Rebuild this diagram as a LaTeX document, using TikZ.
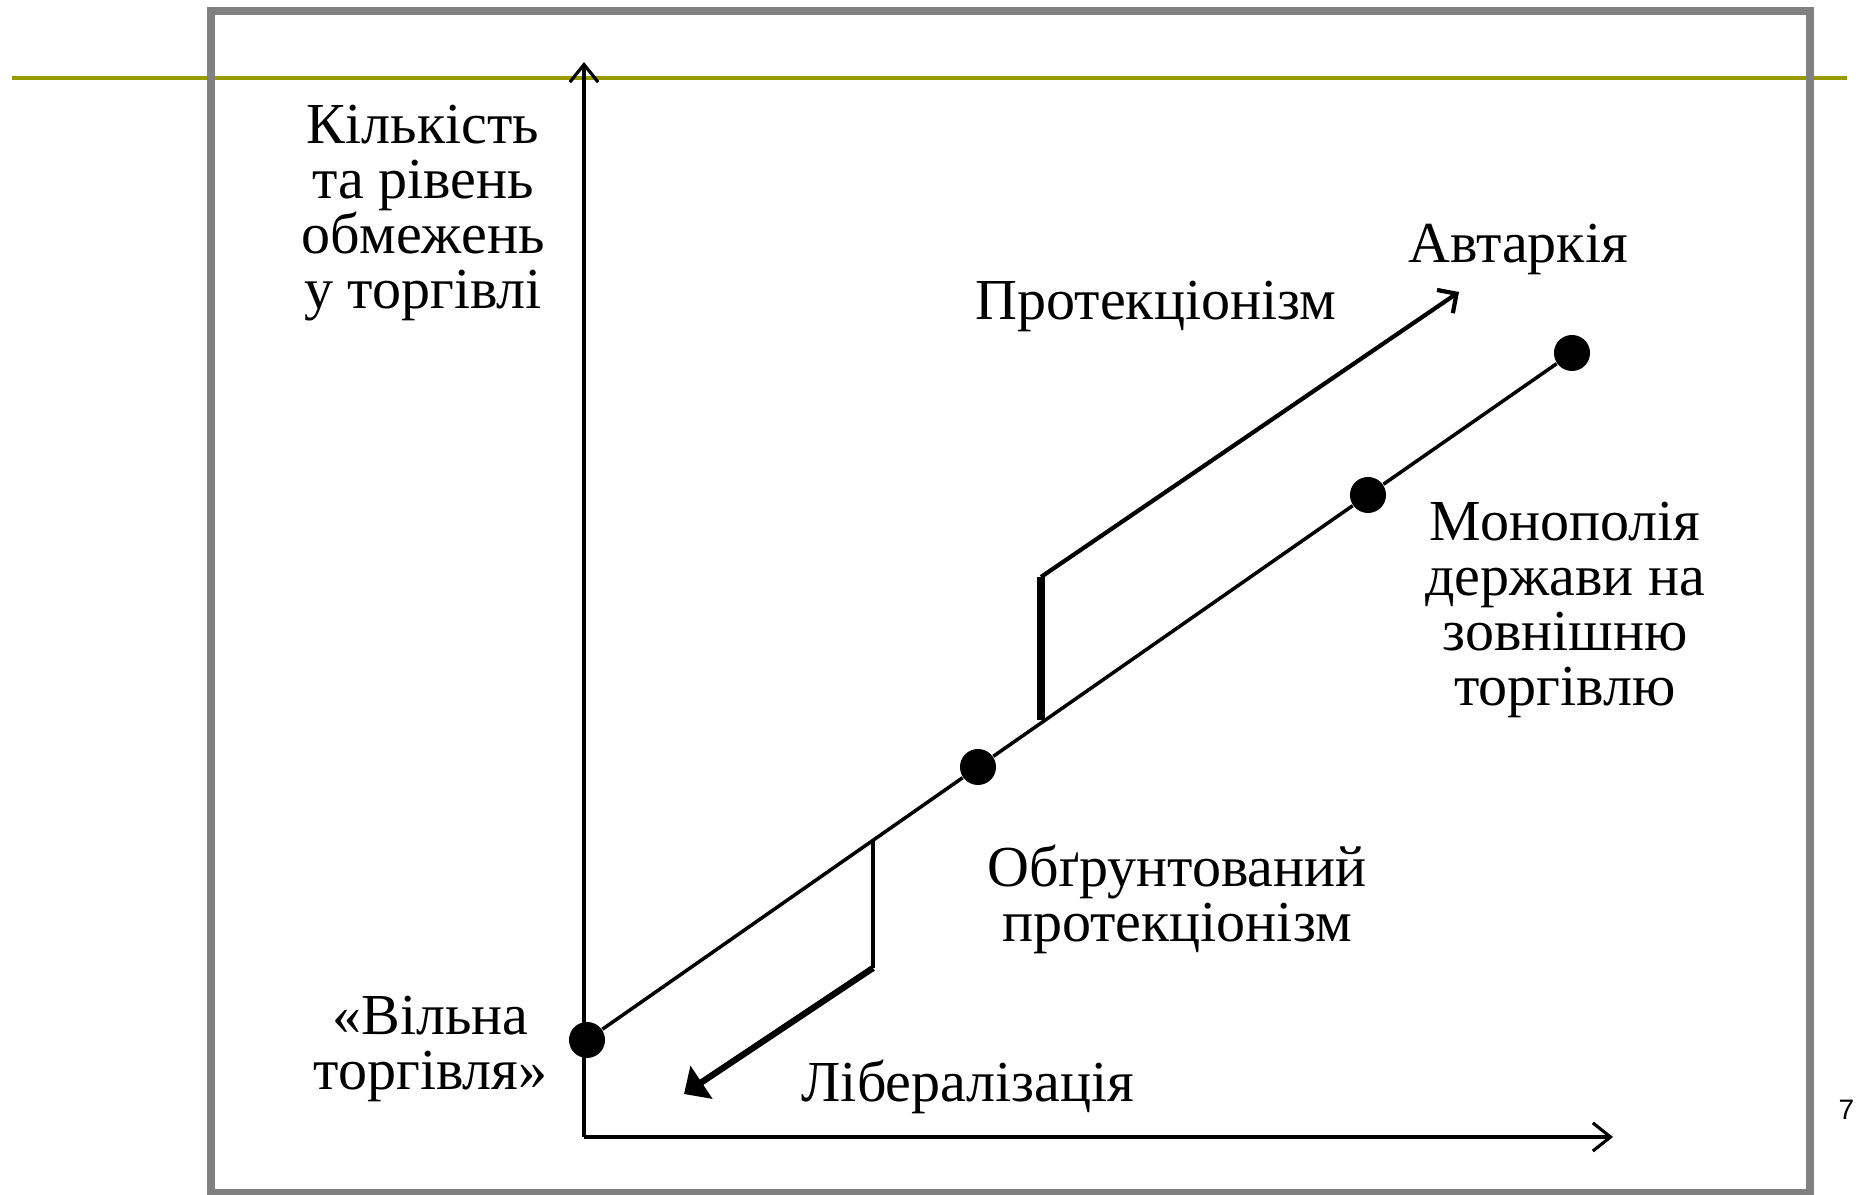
\documentclass[tikz,border=0pt]{standalone}
\usepackage{fontspec}
\setmainfont{Liberation Serif}
\setsansfont{Liberation Sans}
\usetikzlibrary{positioning, arrows.meta}

\definecolor{slideolive}{RGB}{153,153,0}
\definecolor{framegray}{RGB}{128,128,128}

\begin{document}
\begin{tikzpicture}[
        x=0.01cm,
        y=-0.01cm,
        axis/.style={
            line width=0.9pt,
            -{Straight Barb[length=5pt, width=8pt]}
        },
        trend/.style={
            line width=1pt
        },
        dot/.style={
            circle,
            fill=black,
            inner sep=0pt,
            minimum size=0.36cm
        },
        caption/.style={
            align=center,
            inner sep=0pt,
            font=\fontsize{16.5}{15.6}\selectfont
        },
        uparrow/.style={
            line width=1.2pt,
            -{Straight Barb[length=4pt, width=8pt]}
        },
        downarrow/.style={
            line width=1.8pt,
            -{Triangle[length=6pt, width=11pt]}
        }
    ]

    \useasboundingbox (0,0) rectangle (1856,1195);

    % --------------------------------------------------------
    % Slide decoration
    % --------------------------------------------------------

    \draw[slideolive, line width=1.2pt]
        (12,78) -- (1847,78);

    \draw[framegray, line width=2.3pt]
        (211,11) rectangle (1810,1193);

    \node[anchor=base east, inner sep=0pt,
          font=\sffamily\fontsize{8}{9}\selectfont] (pagenum)
        at (1855,1120) {7};

    % --------------------------------------------------------
    % Axes
    % --------------------------------------------------------

    \coordinate (origin) at (584,1137);
    \coordinate (yEnd) at (584,62);
    \coordinate (xEnd) at (1613,1137);

    \draw[axis] (origin) -- (yEnd);
    \draw[axis] (origin) -- (xEnd);

    \node[caption] (ylabel) at (423,213)
        {Кількість\\та рівень\\обмежень\\у торгівлі};

    % --------------------------------------------------------
    % Points on the scale
    % --------------------------------------------------------

    \node[dot] (free) at (587,1040) {};
    \node[dot] (sound) at (978,767) {};
    \node[dot] (monopoly) at (1368,495) {};
    \node[dot] (autarky) at (1572,353) {};

    \draw[trend]
        (free) -- (sound) -- (monopoly) -- (autarky);

    \node[caption, left=0.2cm of free, yshift=-0.09cm] (freeLabel)
        {«Вільна\\торгівля»};

    \node[caption] (soundLabel) at (1177,899)
        {Обґрунтований\\протекціонізм};

    \node[caption] (monopolyLabel) at (1565,610)
        {Монополія\\держави на\\зовнішню\\торгівлю};

    \node[caption, anchor=base] (autarkyLabel) at (1518,263)
        {Автаркія};

    % --------------------------------------------------------
    % Protectionism arrow
    % --------------------------------------------------------

    \coordinate (protFoot) at (1041,720);
    \coordinate (protKnee) at (1041,577);
    \coordinate (protTip) at (1459,292);

    \draw[line width=2.3pt]
        (protFoot) -- (protKnee);

    \draw[uparrow]
        (protKnee) -- (protTip);

    \node[caption, anchor=base] (protLabel) at (1156,320)
        {Протекціонізм};

    % --------------------------------------------------------
    % Liberalisation arrow
    % --------------------------------------------------------

    \coordinate (libTop) at (873,841);
    \coordinate (libKnee) at (873,968);
    \coordinate (libTip) at (684,1094);

    \draw[line width=0.9pt]
        (libTop) -- (libKnee);

    \draw[downarrow]
        (libKnee) -- (libTip);

    \node[caption, anchor=base] (libLabel) at (968,1102)
        {Лібералізація};

\end{tikzpicture}
\end{document}
